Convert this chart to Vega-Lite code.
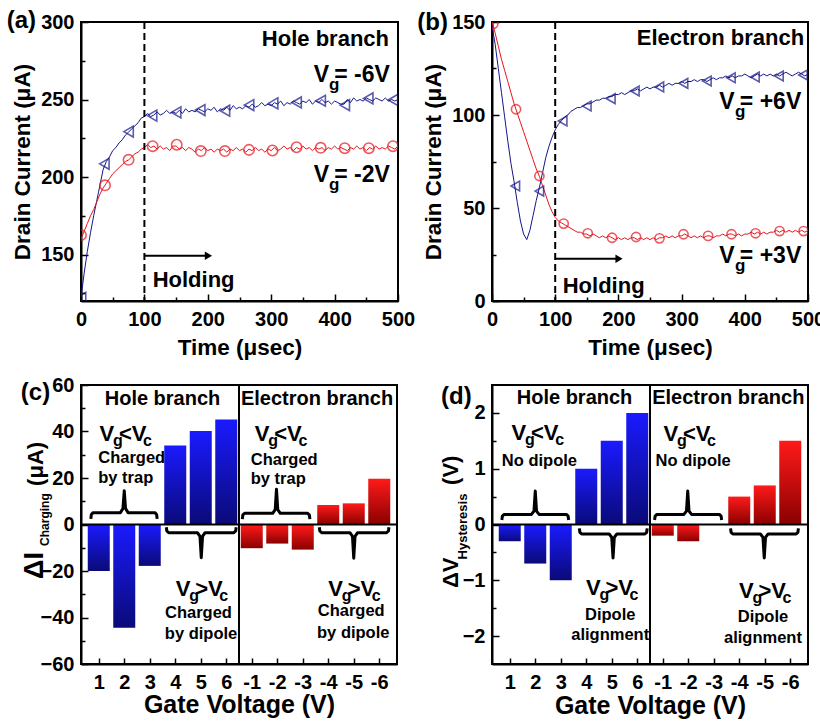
{
"$schema": "https://vega.github.io/schema/vega-lite/v6.json",
"background": "white",
"padding": {"left": 5, "top": 8, "right": 0, "bottom": 0},
"config": {
  "font": "Liberation Sans",
  "view": {"stroke": "black", "strokeWidth": 2},
  "axis": {"domainColor": "black", "domainWidth": 2, "tickColor": "black", "tickWidth": 1.5, "grid": false, "tickCount": 100,
    "labelFont": "Liberation Sans", "labelFontWeight": "bold", "labelFontSize": 20, "labelColor": "black", "labelOverlap": false, "labelFlush": false,
    "titleFont": "Liberation Sans", "titleFontWeight": "bold", "titleFontSize": 22.5, "titleColor": "black"},
  "axisX": {"labelAngle": 0},
  "text": {"font": "Liberation Sans", "fontWeight": "bold", "color": "black"}
},
"datasets": {
  "one": [{}],
  "a_line": [
    {"s":"-6V","x":0,"y":122},{"s":"-6V","x":5,"y":138},{"s":"-6V","x":10,"y":152},{"s":"-6V","x":15,"y":164},{"s":"-6V","x":20,"y":175},{"s":"-6V","x":25,"y":185},{"s":"-6V","x":30,"y":195},{"s":"-6V","x":35,"y":205},{"s":"-6V","x":40,"y":210},{"s":"-6V","x":45,"y":213},{"s":"-6V","x":50,"y":217},{"s":"-6V","x":55,"y":219},{"s":"-6V","x":60,"y":222},{"s":"-6V","x":65,"y":224},{"s":"-6V","x":70,"y":227},{"s":"-6V","x":75,"y":229},{"s":"-6V","x":80,"y":231},{"s":"-6V","x":85,"y":233},{"s":"-6V","x":90,"y":235},{"s":"-6V","x":95,"y":238},
    {"s":"-6V","x":100,"y":239},{"s":"-6V","x":105,"y":241},{"s":"-6V","x":110,"y":239},{"s":"-6V","x":115,"y":240},{"s":"-6V","x":120,"y":242},{"s":"-6V","x":125,"y":240},{"s":"-6V","x":130,"y":241},{"s":"-6V","x":135,"y":243},{"s":"-6V","x":140,"y":241},{"s":"-6V","x":145,"y":242},{"s":"-6V","x":150,"y":241},{"s":"-6V","x":155,"y":243},{"s":"-6V","x":160,"y":241},{"s":"-6V","x":165,"y":244},{"s":"-6V","x":170,"y":242},{"s":"-6V","x":175,"y":243},{"s":"-6V","x":180,"y":242},{"s":"-6V","x":185,"y":244},{"s":"-6V","x":190,"y":243},{"s":"-6V","x":195,"y":242},
    {"s":"-6V","x":200,"y":244},{"s":"-6V","x":205,"y":243},{"s":"-6V","x":210,"y":245},{"s":"-6V","x":215,"y":242},{"s":"-6V","x":220,"y":244},{"s":"-6V","x":225,"y":243},{"s":"-6V","x":230,"y":245},{"s":"-6V","x":235,"y":243},{"s":"-6V","x":240,"y":246},{"s":"-6V","x":245,"y":244},{"s":"-6V","x":250,"y":245},{"s":"-6V","x":255,"y":244},{"s":"-6V","x":260,"y":246},{"s":"-6V","x":265,"y":245},{"s":"-6V","x":270,"y":247},{"s":"-6V","x":275,"y":245},{"s":"-6V","x":280,"y":246},{"s":"-6V","x":285,"y":248},{"s":"-6V","x":290,"y":246},{"s":"-6V","x":295,"y":247},
    {"s":"-6V","x":300,"y":246},{"s":"-6V","x":305,"y":248},{"s":"-6V","x":310,"y":247},{"s":"-6V","x":315,"y":249},{"s":"-6V","x":320,"y":246},{"s":"-6V","x":325,"y":248},{"s":"-6V","x":330,"y":247},{"s":"-6V","x":335,"y":249},{"s":"-6V","x":340,"y":248},{"s":"-6V","x":345,"y":247},{"s":"-6V","x":350,"y":249},{"s":"-6V","x":355,"y":248},{"s":"-6V","x":360,"y":250},{"s":"-6V","x":365,"y":247},{"s":"-6V","x":370,"y":249},{"s":"-6V","x":375,"y":248},{"s":"-6V","x":380,"y":250},{"s":"-6V","x":385,"y":248},{"s":"-6V","x":390,"y":249},{"s":"-6V","x":395,"y":247},
    {"s":"-6V","x":400,"y":249},{"s":"-6V","x":405,"y":248},{"s":"-6V","x":410,"y":247},{"s":"-6V","x":415,"y":247},{"s":"-6V","x":420,"y":250},{"s":"-6V","x":425,"y":248},{"s":"-6V","x":430,"y":251},{"s":"-6V","x":435,"y":249},{"s":"-6V","x":440,"y":250},{"s":"-6V","x":445,"y":249},{"s":"-6V","x":450,"y":251},{"s":"-6V","x":455,"y":250},{"s":"-6V","x":460,"y":249},{"s":"-6V","x":465,"y":251},{"s":"-6V","x":470,"y":250},{"s":"-6V","x":475,"y":249},{"s":"-6V","x":480,"y":251},{"s":"-6V","x":485,"y":249},{"s":"-6V","x":490,"y":250},{"s":"-6V","x":495,"y":249},{"s":"-6V","x":500,"y":250},
    {"s":"-2V","x":0,"y":160},{"s":"-2V","x":5,"y":165},{"s":"-2V","x":10,"y":170},{"s":"-2V","x":15,"y":175},{"s":"-2V","x":20,"y":179},{"s":"-2V","x":25,"y":184},{"s":"-2V","x":30,"y":189},{"s":"-2V","x":35,"y":193},{"s":"-2V","x":40,"y":196},{"s":"-2V","x":45,"y":199},{"s":"-2V","x":50,"y":202},{"s":"-2V","x":55,"y":204},{"s":"-2V","x":60,"y":206},{"s":"-2V","x":65,"y":208},{"s":"-2V","x":70,"y":210},{"s":"-2V","x":75,"y":211},{"s":"-2V","x":80,"y":213},{"s":"-2V","x":85,"y":215},{"s":"-2V","x":90,"y":216},{"s":"-2V","x":95,"y":218},
    {"s":"-2V","x":100,"y":219},{"s":"-2V","x":105,"y":221},{"s":"-2V","x":110,"y":219},{"s":"-2V","x":115,"y":220},{"s":"-2V","x":120,"y":218},{"s":"-2V","x":125,"y":220},{"s":"-2V","x":130,"y":218},{"s":"-2V","x":135,"y":219},{"s":"-2V","x":140,"y":217},{"s":"-2V","x":145,"y":220},{"s":"-2V","x":150,"y":220},{"s":"-2V","x":155,"y":218},{"s":"-2V","x":160,"y":219},{"s":"-2V","x":165,"y":217},{"s":"-2V","x":170,"y":219},{"s":"-2V","x":175,"y":218},{"s":"-2V","x":180,"y":216},{"s":"-2V","x":185,"y":218},{"s":"-2V","x":190,"y":217},{"s":"-2V","x":195,"y":219},
    {"s":"-2V","x":200,"y":217},{"s":"-2V","x":205,"y":218},{"s":"-2V","x":210,"y":216},{"s":"-2V","x":215,"y":218},{"s":"-2V","x":220,"y":217},{"s":"-2V","x":225,"y":218},{"s":"-2V","x":230,"y":216},{"s":"-2V","x":235,"y":218},{"s":"-2V","x":240,"y":217},{"s":"-2V","x":245,"y":219},{"s":"-2V","x":250,"y":217},{"s":"-2V","x":255,"y":218},{"s":"-2V","x":260,"y":216},{"s":"-2V","x":265,"y":218},{"s":"-2V","x":270,"y":217},{"s":"-2V","x":275,"y":219},{"s":"-2V","x":280,"y":217},{"s":"-2V","x":285,"y":218},{"s":"-2V","x":290,"y":216},{"s":"-2V","x":295,"y":218},
    {"s":"-2V","x":300,"y":217},{"s":"-2V","x":305,"y":219},{"s":"-2V","x":310,"y":217},{"s":"-2V","x":315,"y":218},{"s":"-2V","x":320,"y":220},{"s":"-2V","x":325,"y":218},{"s":"-2V","x":330,"y":219},{"s":"-2V","x":335,"y":217},{"s":"-2V","x":340,"y":219},{"s":"-2V","x":345,"y":218},{"s":"-2V","x":350,"y":220},{"s":"-2V","x":355,"y":218},{"s":"-2V","x":360,"y":219},{"s":"-2V","x":365,"y":217},{"s":"-2V","x":370,"y":219},{"s":"-2V","x":375,"y":218},{"s":"-2V","x":380,"y":219},{"s":"-2V","x":385,"y":217},{"s":"-2V","x":390,"y":219},{"s":"-2V","x":395,"y":218},
    {"s":"-2V","x":400,"y":220},{"s":"-2V","x":405,"y":218},{"s":"-2V","x":410,"y":219},{"s":"-2V","x":415,"y":218},{"s":"-2V","x":420,"y":217},{"s":"-2V","x":425,"y":219},{"s":"-2V","x":430,"y":218},{"s":"-2V","x":435,"y":220},{"s":"-2V","x":440,"y":218},{"s":"-2V","x":445,"y":219},{"s":"-2V","x":450,"y":217},{"s":"-2V","x":455,"y":219},{"s":"-2V","x":460,"y":218},{"s":"-2V","x":465,"y":220},{"s":"-2V","x":470,"y":218},{"s":"-2V","x":475,"y":219},{"s":"-2V","x":480,"y":218},{"s":"-2V","x":485,"y":220},{"s":"-2V","x":490,"y":219},{"s":"-2V","x":495,"y":218},{"s":"-2V","x":500,"y":220}
  ],
  "a_pts": [
    {"s":"-6V","x":0,"y":122},{"s":"-6V","x":36.8,"y":208.5},{"s":"-6V","x":75,"y":229.3},{"s":"-6V","x":112,"y":239.6},{"s":"-6V","x":150,"y":241.7},{"s":"-6V","x":188,"y":243.2},{"s":"-6V","x":227,"y":242.8},{"s":"-6V","x":265,"y":246.4},{"s":"-6V","x":303,"y":247.5},{"s":"-6V","x":340,"y":248.1},{"s":"-6V","x":378,"y":249.2},{"s":"-6V","x":416,"y":246.4},{"s":"-6V","x":453,"y":250.7},{"s":"-6V","x":492,"y":249.7},
    {"s":"-2V","x":0,"y":162.5},{"s":"-2V","x":37.9,"y":194.6},{"s":"-2V","x":75,"y":211.1},{"s":"-2V","x":113,"y":219.9},{"s":"-2V","x":151,"y":220.8},{"s":"-2V","x":189,"y":216.7},{"s":"-2V","x":227,"y":216.7},{"s":"-2V","x":265,"y":217.5},{"s":"-2V","x":302,"y":217.1},{"s":"-2V","x":340,"y":219.2},{"s":"-2V","x":378,"y":218.8},{"s":"-2V","x":416,"y":218.6},{"s":"-2V","x":454,"y":218.6},{"s":"-2V","x":492,"y":219.9}
  ],
  "a_txt": [
    {"k":"big","x":367,"y":261,"s":"V"},{"k":"sub","x":391.2,"y":261,"s":"g"},{"k":"big","x":399.5,"y":261,"s":"= -6V"},
    {"k":"big","x":367,"y":196.7,"s":"V"},{"k":"sub","x":391.2,"y":196.7,"s":"g"},{"k":"big","x":399.5,"y":196.7,"s":"= -2V"},
    {"k":"head","x":485.8,"y":288.9,"s":"Hole branch"},
    {"k":"hold","x":113,"y":133.6,"s":"Holding"},
    {"k":"lab","x":-71,"y":300.6,"s":"(a)"}
  ],
  "b_line": [
    {"s":"+6V","x":0,"y":148},{"s":"+6V","x":5,"y":138},{"s":"+6V","x":10,"y":125},{"s":"+6V","x":15,"y":112},{"s":"+6V","x":20,"y":99},{"s":"+6V","x":25,"y":86},{"s":"+6V","x":30,"y":74},{"s":"+6V","x":35,"y":64},{"s":"+6V","x":40,"y":53},{"s":"+6V","x":45,"y":43},{"s":"+6V","x":50,"y":36},{"s":"+6V","x":55,"y":33},{"s":"+6V","x":60,"y":38},{"s":"+6V","x":65,"y":46},{"s":"+6V","x":70,"y":54},{"s":"+6V","x":75,"y":61},{"s":"+6V","x":80,"y":69},{"s":"+6V","x":85,"y":77},{"s":"+6V","x":90,"y":83},{"s":"+6V","x":95,"y":88},
    {"s":"+6V","x":100,"y":92},{"s":"+6V","x":105,"y":95},{"s":"+6V","x":110,"y":97},{"s":"+6V","x":115,"y":99},{"s":"+6V","x":120,"y":100},{"s":"+6V","x":125,"y":102},{"s":"+6V","x":130,"y":103},{"s":"+6V","x":135,"y":104},{"s":"+6V","x":140,"y":104},{"s":"+6V","x":145,"y":105},{"s":"+6V","x":150,"y":106},{"s":"+6V","x":155,"y":106},{"s":"+6V","x":160,"y":107},{"s":"+6V","x":165,"y":108},{"s":"+6V","x":170,"y":108},{"s":"+6V","x":175,"y":109},{"s":"+6V","x":180,"y":109},{"s":"+6V","x":185,"y":110},{"s":"+6V","x":190,"y":110},{"s":"+6V","x":195,"y":111},
    {"s":"+6V","x":200,"y":111},{"s":"+6V","x":205,"y":112},{"s":"+6V","x":210,"y":111},{"s":"+6V","x":215,"y":112},{"s":"+6V","x":220,"y":113},{"s":"+6V","x":225,"y":113},{"s":"+6V","x":230,"y":114},{"s":"+6V","x":235,"y":113},{"s":"+6V","x":240,"y":114},{"s":"+6V","x":245,"y":115},{"s":"+6V","x":250,"y":114},{"s":"+6V","x":255,"y":115},{"s":"+6V","x":260,"y":115},{"s":"+6V","x":265,"y":116},{"s":"+6V","x":270,"y":115},{"s":"+6V","x":275,"y":116},{"s":"+6V","x":280,"y":117},{"s":"+6V","x":285,"y":116},{"s":"+6V","x":290,"y":117},{"s":"+6V","x":295,"y":117},
    {"s":"+6V","x":300,"y":118},{"s":"+6V","x":305,"y":117},{"s":"+6V","x":310,"y":118},{"s":"+6V","x":315,"y":118},{"s":"+6V","x":320,"y":119},{"s":"+6V","x":325,"y":118},{"s":"+6V","x":330,"y":119},{"s":"+6V","x":335,"y":119},{"s":"+6V","x":340,"y":118},{"s":"+6V","x":345,"y":119},{"s":"+6V","x":350,"y":120},{"s":"+6V","x":355,"y":119},{"s":"+6V","x":360,"y":120},{"s":"+6V","x":365,"y":120},{"s":"+6V","x":370,"y":121},{"s":"+6V","x":375,"y":120},{"s":"+6V","x":380,"y":121},{"s":"+6V","x":385,"y":120},{"s":"+6V","x":390,"y":121},{"s":"+6V","x":395,"y":121},
    {"s":"+6V","x":400,"y":122},{"s":"+6V","x":405,"y":121},{"s":"+6V","x":410,"y":120},{"s":"+6V","x":415,"y":121},{"s":"+6V","x":420,"y":122},{"s":"+6V","x":425,"y":121},{"s":"+6V","x":430,"y":122},{"s":"+6V","x":435,"y":121},{"s":"+6V","x":440,"y":122},{"s":"+6V","x":445,"y":121},{"s":"+6V","x":450,"y":122},{"s":"+6V","x":455,"y":121},{"s":"+6V","x":460,"y":122},{"s":"+6V","x":465,"y":123},{"s":"+6V","x":470,"y":122},{"s":"+6V","x":475,"y":121},{"s":"+6V","x":480,"y":122},{"s":"+6V","x":485,"y":123},{"s":"+6V","x":490,"y":122},{"s":"+6V","x":495,"y":121},{"s":"+6V","x":500,"y":122},
    {"s":"+3V","x":0,"y":150},{"s":"+3V","x":5,"y":144},{"s":"+3V","x":10,"y":137},{"s":"+3V","x":15,"y":130},{"s":"+3V","x":20,"y":124},{"s":"+3V","x":25,"y":118},{"s":"+3V","x":30,"y":112},{"s":"+3V","x":35,"y":106},{"s":"+3V","x":40,"y":101},{"s":"+3V","x":45,"y":96},{"s":"+3V","x":50,"y":91},{"s":"+3V","x":55,"y":86},{"s":"+3V","x":60,"y":81},{"s":"+3V","x":65,"y":76},{"s":"+3V","x":70,"y":71},{"s":"+3V","x":75,"y":67},{"s":"+3V","x":80,"y":62},{"s":"+3V","x":85,"y":57},{"s":"+3V","x":90,"y":52},{"s":"+3V","x":95,"y":48},
    {"s":"+3V","x":100,"y":45},{"s":"+3V","x":105,"y":43},{"s":"+3V","x":110,"y":42},{"s":"+3V","x":115,"y":41},{"s":"+3V","x":120,"y":40},{"s":"+3V","x":125,"y":39},{"s":"+3V","x":130,"y":38},{"s":"+3V","x":135,"y":37},{"s":"+3V","x":140,"y":37},{"s":"+3V","x":145,"y":36},{"s":"+3V","x":150,"y":36},{"s":"+3V","x":155,"y":35},{"s":"+3V","x":160,"y":36},{"s":"+3V","x":165,"y":35},{"s":"+3V","x":170,"y":34},{"s":"+3V","x":175,"y":35},{"s":"+3V","x":180,"y":34},{"s":"+3V","x":185,"y":35},{"s":"+3V","x":190,"y":34},{"s":"+3V","x":195,"y":33},
    {"s":"+3V","x":200,"y":34},{"s":"+3V","x":205,"y":33},{"s":"+3V","x":210,"y":34},{"s":"+3V","x":215,"y":33},{"s":"+3V","x":220,"y":34},{"s":"+3V","x":225,"y":34},{"s":"+3V","x":230,"y":33},{"s":"+3V","x":235,"y":34},{"s":"+3V","x":240,"y":33},{"s":"+3V","x":245,"y":34},{"s":"+3V","x":250,"y":33},{"s":"+3V","x":255,"y":34},{"s":"+3V","x":260,"y":33},{"s":"+3V","x":265,"y":34},{"s":"+3V","x":270,"y":34},{"s":"+3V","x":275,"y":35},{"s":"+3V","x":280,"y":34},{"s":"+3V","x":285,"y":35},{"s":"+3V","x":290,"y":34},{"s":"+3V","x":295,"y":35},
    {"s":"+3V","x":300,"y":35},{"s":"+3V","x":305,"y":36},{"s":"+3V","x":310,"y":35},{"s":"+3V","x":315,"y":34},{"s":"+3V","x":320,"y":35},{"s":"+3V","x":325,"y":34},{"s":"+3V","x":330,"y":35},{"s":"+3V","x":335,"y":34},{"s":"+3V","x":340,"y":35},{"s":"+3V","x":345,"y":35},{"s":"+3V","x":350,"y":34},{"s":"+3V","x":355,"y":35},{"s":"+3V","x":360,"y":35},{"s":"+3V","x":365,"y":36},{"s":"+3V","x":370,"y":35},{"s":"+3V","x":375,"y":36},{"s":"+3V","x":380,"y":36},{"s":"+3V","x":385,"y":35},{"s":"+3V","x":390,"y":36},{"s":"+3V","x":395,"y":35},
    {"s":"+3V","x":400,"y":36},{"s":"+3V","x":405,"y":36},{"s":"+3V","x":410,"y":37},{"s":"+3V","x":415,"y":36},{"s":"+3V","x":420,"y":37},{"s":"+3V","x":425,"y":36},{"s":"+3V","x":430,"y":37},{"s":"+3V","x":435,"y":36},{"s":"+3V","x":440,"y":37},{"s":"+3V","x":445,"y":37},{"s":"+3V","x":450,"y":38},{"s":"+3V","x":455,"y":37},{"s":"+3V","x":460,"y":38},{"s":"+3V","x":465,"y":37},{"s":"+3V","x":470,"y":38},{"s":"+3V","x":475,"y":37},{"s":"+3V","x":480,"y":38},{"s":"+3V","x":485,"y":37},{"s":"+3V","x":490,"y":38},{"s":"+3V","x":495,"y":37},{"s":"+3V","x":500,"y":38}
  ],
  "b_pts": [
    {"s":"+6V","x":36.9,"y":61.8},{"s":"+6V","x":74.9,"y":59.1},{"s":"+6V","x":111.8,"y":96.8},{"s":"+6V","x":150,"y":104.8},{"s":"+6V","x":188,"y":108.8},{"s":"+6V","x":226,"y":112.9},{"s":"+6V","x":264.8,"y":115.1},{"s":"+6V","x":303,"y":117},{"s":"+6V","x":340,"y":118.3},{"s":"+6V","x":378,"y":120},{"s":"+6V","x":416,"y":120.4},{"s":"+6V","x":454,"y":121},{"s":"+6V","x":492,"y":121.5},
    {"s":"+3V","x":2,"y":149},{"s":"+3V","x":38,"y":103.1},{"s":"+3V","x":75,"y":67.2},{"s":"+3V","x":113.4,"y":41.6},{"s":"+3V","x":151.5,"y":36.4},{"s":"+3V","x":190,"y":34},{"s":"+3V","x":228,"y":34.4},{"s":"+3V","x":265,"y":33.7},{"s":"+3V","x":303,"y":35.9},{"s":"+3V","x":342,"y":35},{"s":"+3V","x":379,"y":35.9},{"s":"+3V","x":417,"y":36.4},{"s":"+3V","x":455,"y":37.6},{"s":"+3V","x":493,"y":37.6}
  ],
  "b_txt": [
    {"k":"big","x":359.7,"y":103.1,"s":"V"},{"k":"sub","x":384.5,"y":103.1,"s":"g"},{"k":"big","x":392.2,"y":103.1,"s":"= +6V"},
    {"k":"big","x":359.7,"y":20.6,"s":"V"},{"k":"sub","x":384.5,"y":20.6,"s":"g"},{"k":"big","x":392.2,"y":20.6,"s":"= +3V"},
    {"k":"head","x":494,"y":141.6,"s":"Electron branch"},
    {"k":"hold","x":111.9,"y":8.1,"s":"Holding"},
    {"k":"lab","x":-69.6,"y":149.5,"s":"(b)"}
  ],
  "c_bars": [
    {"br":"h","x":1,"g":"1","y":-20},{"br":"h","x":2,"g":"2","y":-44.4},{"br":"h","x":3,"g":"3","y":-17.8},{"br":"h","x":4,"g":"4","y":34},{"br":"h","x":5,"g":"5","y":40.2},{"br":"h","x":6,"g":"6","y":45.2},
    {"br":"e","x":7,"g":"-1","y":-10.2},{"br":"e","x":8,"g":"-2","y":-8.2},{"br":"e","x":9,"g":"-3","y":-10.8},{"br":"e","x":10,"g":"-4","y":8.4},{"br":"e","x":11,"g":"-5","y":9.1},{"br":"e","x":12,"g":"-6","y":19.7}
  ],
  "c_br": [
    {"b":1,"o":1,"x":0.69,"y":2.4},{"b":1,"o":2,"x":0.71,"y":4.3},{"b":1,"o":3,"x":0.78,"y":5.1},{"b":1,"o":4,"x":1.85,"y":5.1},{"b":1,"o":5,"x":1.95,"y":6.9},{"b":1,"o":6,"x":2.0,"y":14.5},{"b":1,"o":7,"x":2.05,"y":6.9},{"b":1,"o":8,"x":2.15,"y":5.1},{"b":1,"o":9,"x":3.2,"y":5.1},{"b":1,"o":10,"x":3.27,"y":4.3},{"b":1,"o":11,"x":3.29,"y":2.4},
    {"b":2,"o":1,"x":3.65,"y":-1.2},{"b":2,"o":2,"x":3.67,"y":-2.8},{"b":2,"o":3,"x":3.74,"y":-3.5},{"b":2,"o":4,"x":4.87,"y":-3.5},{"b":2,"o":5,"x":4.97,"y":-5.1},{"b":2,"o":6,"x":5.02,"y":-14.3},{"b":2,"o":7,"x":5.07,"y":-5.1},{"b":2,"o":8,"x":5.17,"y":-3.5},{"b":2,"o":9,"x":6.3,"y":-3.5},{"b":2,"o":10,"x":6.37,"y":-2.8},{"b":2,"o":11,"x":6.39,"y":-1.2},
    {"b":3,"o":1,"x":6.63,"y":2.3},{"b":3,"o":2,"x":6.65,"y":4.1},{"b":3,"o":3,"x":6.72,"y":4.8},{"b":3,"o":4,"x":7.82,"y":4.8},{"b":3,"o":5,"x":7.92,"y":6.4},{"b":3,"o":6,"x":7.97,"y":15.2},{"b":3,"o":7,"x":8.02,"y":6.4},{"b":3,"o":8,"x":8.12,"y":4.8},{"b":3,"o":9,"x":9.19,"y":4.8},{"b":3,"o":10,"x":9.26,"y":4.1},{"b":3,"o":11,"x":9.28,"y":2.3},
    {"b":4,"o":1,"x":9.65,"y":-1.2},{"b":4,"o":2,"x":9.67,"y":-2.8},{"b":4,"o":3,"x":9.74,"y":-3.5},{"b":4,"o":4,"x":10.85,"y":-3.5},{"b":4,"o":5,"x":10.95,"y":-5.1},{"b":4,"o":6,"x":11.0,"y":-14.5},{"b":4,"o":7,"x":11.05,"y":-5.1},{"b":4,"o":8,"x":11.15,"y":-3.5},{"b":4,"o":9,"x":12.29,"y":-3.5},{"b":4,"o":10,"x":12.36,"y":-2.8},{"b":4,"o":11,"x":12.38,"y":-1.2}
  ],
  "c_txt": [
    {"k":"head","x":3.5,"y":54.1,"s":"Hole branch"},{"k":"head","x":9.56,"y":54.1,"s":"Electron branch"},
    {"k":"big","x":1.03,"y":35.9,"s":"V"},{"k":"sub","x":1.56,"y":35.9,"s":"g"},{"k":"big","x":1.79,"y":35.9,"s":"<V"},{"k":"sub","x":2.74,"y":35.9,"s":"c"},
    {"k":"big","x":7.12,"y":35.9,"s":"V"},{"k":"sub","x":7.65,"y":35.9,"s":"g"},{"k":"big","x":7.88,"y":35.9,"s":"<V"},{"k":"sub","x":8.83,"y":35.9,"s":"c"},
    {"k":"big","x":4.02,"y":-30.8,"s":"V"},{"k":"sub","x":4.55,"y":-30.8,"s":"g"},{"k":"big","x":4.78,"y":-30.8,"s":">V"},{"k":"sub","x":5.73,"y":-30.8,"s":"c"},
    {"k":"big","x":10.0,"y":-30.8,"s":"V"},{"k":"sub","x":10.53,"y":-30.8,"s":"g"},{"k":"big","x":10.76,"y":-30.8,"s":">V"},{"k":"sub","x":11.71,"y":-30.8,"s":"c"},
    {"k":"descL","x":0.98,"y":28.5,"s":"Charged"},{"k":"descL","x":0.98,"y":20.1,"s":"by trap"},{"k":"descL","x":6.96,"y":27.7,"s":"Charged"},{"k":"descL","x":6.96,"y":19.4,"s":"by trap"},
    {"k":"descC","x":4.91,"y":-38.2,"s":"Charged"},{"k":"descC","x":5.01,"y":-47,"s":"by dipole"},{"k":"descC","x":10.9,"y":-37.2,"s":"Charged"},{"k":"descC","x":10.98,"y":-46.6,"s":"by dipole"},
    {"k":"lab","x":-0.905,"y":56.6,"s":"(c)"},
    {"k":"yt1","x":-1.17,"y":-23.4,"s":"ΔI"},{"k":"yt2","x":-0.96,"y":-9.2,"s":"Charging"},{"k":"yt3","x":-1.17,"y":16.6,"s":"(μA)"}
  ],
  "d_bars": [
    {"br":"h","x":1,"g":"1","y":-0.3},{"br":"h","x":2,"g":"2","y":-0.7},{"br":"h","x":3,"g":"3","y":-1.0},{"br":"h","x":4,"g":"4","y":1.0},{"br":"h","x":5,"g":"5","y":1.5},{"br":"h","x":6,"g":"6","y":2.0},
    {"br":"e","x":7,"g":"-1","y":-0.2},{"br":"e","x":8,"g":"-2","y":-0.3},{"br":"e","x":9,"g":"-3","y":0},{"br":"e","x":10,"g":"-4","y":0.5},{"br":"e","x":11,"g":"-5","y":0.7},{"br":"e","x":12,"g":"-6","y":1.5}
  ],
  "d_br": [
    {"b":1,"o":1,"x":0.69,"y":0.08},{"b":1,"o":2,"x":0.71,"y":0.15},{"b":1,"o":3,"x":0.78,"y":0.18},{"b":1,"o":4,"x":1.85,"y":0.18},{"b":1,"o":5,"x":1.95,"y":0.24},{"b":1,"o":6,"x":2.0,"y":0.6},{"b":1,"o":7,"x":2.05,"y":0.24},{"b":1,"o":8,"x":2.15,"y":0.18},{"b":1,"o":9,"x":3.22,"y":0.18},{"b":1,"o":10,"x":3.29,"y":0.15},{"b":1,"o":11,"x":3.31,"y":0.08},
    {"b":2,"o":1,"x":3.73,"y":-0.07},{"b":2,"o":2,"x":3.75,"y":-0.14},{"b":2,"o":3,"x":3.82,"y":-0.17},{"b":2,"o":4,"x":4.9,"y":-0.17},{"b":2,"o":5,"x":5.0,"y":-0.23},{"b":2,"o":6,"x":5.05,"y":-0.6},{"b":2,"o":7,"x":5.1,"y":-0.23},{"b":2,"o":8,"x":5.2,"y":-0.17},{"b":2,"o":9,"x":6.3,"y":-0.17},{"b":2,"o":10,"x":6.37,"y":-0.14},{"b":2,"o":11,"x":6.39,"y":-0.07},
    {"b":3,"o":1,"x":6.68,"y":0.08},{"b":3,"o":2,"x":6.7,"y":0.15},{"b":3,"o":3,"x":6.77,"y":0.18},{"b":3,"o":4,"x":7.83,"y":0.18},{"b":3,"o":5,"x":7.93,"y":0.24},{"b":3,"o":6,"x":7.98,"y":0.6},{"b":3,"o":7,"x":8.03,"y":0.24},{"b":3,"o":8,"x":8.13,"y":0.18},{"b":3,"o":9,"x":9.22,"y":0.18},{"b":3,"o":10,"x":9.29,"y":0.15},{"b":3,"o":11,"x":9.31,"y":0.08},
    {"b":4,"o":1,"x":9.66,"y":-0.07},{"b":4,"o":2,"x":9.68,"y":-0.14},{"b":4,"o":3,"x":9.75,"y":-0.17},{"b":4,"o":4,"x":10.83,"y":-0.17},{"b":4,"o":5,"x":10.93,"y":-0.23},{"b":4,"o":6,"x":10.98,"y":-0.6},{"b":4,"o":7,"x":11.03,"y":-0.23},{"b":4,"o":8,"x":11.13,"y":-0.17},{"b":4,"o":9,"x":12.23,"y":-0.17},{"b":4,"o":10,"x":12.3,"y":-0.14},{"b":4,"o":11,"x":12.32,"y":-0.07}
  ],
  "d_txt": [
    {"k":"head","x":3.54,"y":2.27,"s":"Hole branch"},{"k":"head","x":9.57,"y":2.27,"s":"Electron branch"},
    {"k":"big","x":1.07,"y":1.51,"s":"V"},{"k":"sub","x":1.6,"y":1.51,"s":"g"},{"k":"big","x":1.83,"y":1.51,"s":"<V"},{"k":"sub","x":2.78,"y":1.51,"s":"c"},
    {"k":"big","x":7.03,"y":1.5,"s":"V"},{"k":"sub","x":7.56,"y":1.5,"s":"g"},{"k":"big","x":7.79,"y":1.5,"s":"<V"},{"k":"sub","x":8.74,"y":1.5,"s":"c"},
    {"k":"big","x":3.99,"y":-1.26,"s":"V"},{"k":"sub","x":4.52,"y":-1.26,"s":"g"},{"k":"big","x":4.75,"y":-1.26,"s":">V"},{"k":"sub","x":5.7,"y":-1.26,"s":"c"},
    {"k":"big","x":9.99,"y":-1.31,"s":"V"},{"k":"sub","x":10.52,"y":-1.31,"s":"g"},{"k":"big","x":10.75,"y":-1.31,"s":">V"},{"k":"sub","x":11.7,"y":-1.31,"s":"c"},
    {"k":"descL","x":0.69,"y":1.14,"s":"No dipole"},{"k":"descL","x":6.72,"y":1.14,"s":"No dipole"},
    {"k":"descC","x":4.94,"y":-1.63,"s":"Dipole"},{"k":"descC","x":4.94,"y":-1.98,"s":"alignment"},{"k":"descC","x":10.93,"y":-1.66,"s":"Dipole"},{"k":"descC","x":10.93,"y":-2.03,"s":"alignment"},
    {"k":"lab","x":-0.49,"y":2.29,"s":"(d)"},
    {"k":"yt1","x":-1.02,"y":-1.14,"s":"ΔV"},{"k":"yt2","x":-0.68,"y":-0.625,"s":"Hysteresis"},{"k":"yt3","x":-1.02,"y":0.71,"s":"(V)"}
  ]
},
"columns": 2,
"spacing": {"row": 84, "column": 94},
"bounds": "flush",
"concat": [
  {
    "width": 317, "height": 279,
    "layer": [
      {"data": {"name": "a_line"}, "mark": {"type": "line", "strokeWidth": 1, "clip": true},
       "encoding": {
         "x": {"field": "x", "type": "quantitative", "scale": {"domain": [0, 500], "nice": false, "zero": false},
               "axis": {"values": [0,50,100,150,200,250,300,350,400,450,500], "tickCount": 100, "labelExpr": "datum.value % 100 === 0 ? format(datum.value, 'd') : ''",
                        "tickSize": {"condition": {"test": "datum.value % 100 !== 0", "value": -4}, "value": -7},
                        "labelPadding": 15, "title": "Time (μsec)", "titlePadding": 4}},
         "y": {"field": "y", "type": "quantitative", "scale": {"domain": [120, 300], "nice": false, "zero": false},
               "axis": {"values": [125,150,175,200,225,250,275,300], "tickCount": 100, "labelExpr": "datum.value % 50 === 0 ? format(datum.value, 'd') : ''",
                        "tickSize": {"condition": {"test": "datum.value % 50 !== 0", "value": -4}, "value": -7},
                        "labelPadding": 14, "title": "Drain Current (μA)", "titlePadding": 6}},
         "color": {"field": "s", "type": "nominal", "scale": {"domain": ["-6V", "-2V"], "range": ["#16168c", "#e8141c"]}, "legend": null}
       }},
      {"data": {"name": "a_pts"}, "mark": {"type": "point", "filled": false, "strokeWidth": 1.6, "clip": true},
       "encoding": {
         "x": {"field": "x", "type": "quantitative"},
         "y": {"field": "y", "type": "quantitative"},
         "color": {"field": "s", "type": "nominal", "legend": null},
         "shape": {"field": "s", "type": "nominal", "scale": {"domain": ["-6V", "-2V"], "range": ["triangle-left", "circle"]}, "legend": null},
         "size": {"field": "s", "type": "nominal", "scale": {"domain": ["-6V", "-2V"], "range": [120, 85]}, "legend": null}
       }},
      {"data": {"name": "one"}, "mark": {"type": "rule", "strokeDash": [7, 4], "strokeWidth": 2, "color": "black"},
       "encoding": {"x": {"datum": 100}}},
      {"data": {"name": "one"}, "mark": {"type": "rule", "strokeWidth": 2, "color": "black"},
       "encoding": {"x": {"datum": 100}, "x2": {"datum": 198}, "y": {"datum": 149.2}}},
      {"data": {"name": "one"}, "mark": {"type": "point", "shape": "triangle-right", "filled": true, "size": 70, "color": "black", "opacity": 1},
       "encoding": {"x": {"datum": 201}, "y": {"datum": 149.2}}},
      {"data": {"name": "a_txt"}, "transform": [{"filter": "datum.k === 'big'"}], "mark": {"type": "text", "fontSize": 23, "align": "left", "baseline": "alphabetic"},
       "encoding": {"x": {"field": "x", "type": "quantitative"}, "y": {"field": "y", "type": "quantitative"}, "text": {"field": "s"}}},
      {"data": {"name": "a_txt"}, "transform": [{"filter": "datum.k === 'sub'"}], "mark": {"type": "text", "fontSize": 17, "align": "left", "baseline": "alphabetic", "dy": 8},
       "encoding": {"x": {"field": "x", "type": "quantitative"}, "y": {"field": "y", "type": "quantitative"}, "text": {"field": "s"}}},
      {"data": {"name": "a_txt"}, "transform": [{"filter": "datum.k === 'head'"}], "mark": {"type": "text", "fontSize": 22, "align": "right", "baseline": "middle"},
       "encoding": {"x": {"field": "x", "type": "quantitative"}, "y": {"field": "y", "type": "quantitative"}, "text": {"field": "s"}}},
      {"data": {"name": "a_txt"}, "transform": [{"filter": "datum.k === 'hold'"}], "mark": {"type": "text", "fontSize": 22, "align": "left", "baseline": "middle"},
       "encoding": {"x": {"field": "x", "type": "quantitative"}, "y": {"field": "y", "type": "quantitative"}, "text": {"field": "s"}}},
      {"data": {"name": "a_txt"}, "transform": [{"filter": "datum.k === 'lab'"}], "mark": {"type": "text", "fontSize": 24, "align": "right", "baseline": "middle"},
       "encoding": {"x": {"field": "x", "type": "quantitative"}, "y": {"field": "y", "type": "quantitative"}, "text": {"field": "s"}}}
    ]
  },
  {
    "width": 316, "height": 279,
    "layer": [
      {"data": {"name": "b_line"}, "mark": {"type": "line", "strokeWidth": 1, "clip": true},
       "encoding": {
         "x": {"field": "x", "type": "quantitative", "scale": {"domain": [0, 500], "nice": false, "zero": false},
               "axis": {"values": [0,50,100,150,200,250,300,350,400,450,500], "tickCount": 100, "labelExpr": "datum.value % 100 === 0 ? format(datum.value, 'd') : ''",
                        "tickSize": {"condition": {"test": "datum.value % 100 !== 0", "value": -4}, "value": -7},
                        "labelPadding": 15, "title": "Time (μsec)", "titlePadding": 4}},
         "y": {"field": "y", "type": "quantitative", "scale": {"domain": [0, 150], "nice": false},
               "axis": {"values": [0,25,50,75,100,125,150], "tickCount": 100, "labelExpr": "datum.value % 50 === 0 ? format(datum.value, 'd') : ''",
                        "tickSize": {"condition": {"test": "datum.value % 50 !== 0", "value": -4}, "value": -7},
                        "labelPadding": 14, "title": "Drain Current (μA)", "titlePadding": 6}},
         "color": {"field": "s", "type": "nominal", "scale": {"domain": ["+6V", "+3V"], "range": ["#16168c", "#e8141c"]}, "legend": null}
       }},
      {"data": {"name": "b_pts"}, "mark": {"type": "point", "filled": false, "strokeWidth": 1.6, "clip": true},
       "encoding": {
         "x": {"field": "x", "type": "quantitative"},
         "y": {"field": "y", "type": "quantitative"},
         "color": {"field": "s", "type": "nominal", "legend": null},
         "shape": {"field": "s", "type": "nominal", "scale": {"domain": ["+6V", "+3V"], "range": ["triangle-left", "triangle-up"]}, "legend": null},
         "size": {"field": "s", "type": "nominal", "scale": {"domain": ["+6V", "+3V"], "range": [120, 120]}, "legend": null}
       }},
      {"data": {"name": "one"}, "mark": {"type": "rule", "strokeDash": [7, 4], "strokeWidth": 2, "color": "black"},
       "encoding": {"x": {"datum": 100}}},
      {"data": {"name": "one"}, "mark": {"type": "rule", "strokeWidth": 2, "color": "black"},
       "encoding": {"x": {"datum": 100}, "x2": {"datum": 198}, "y": {"datum": 22.7}}},
      {"data": {"name": "one"}, "mark": {"type": "point", "shape": "triangle-right", "filled": true, "size": 70, "color": "black", "opacity": 1},
       "encoding": {"x": {"datum": 201}, "y": {"datum": 22.7}}},
      {"data": {"name": "b_txt"}, "transform": [{"filter": "datum.k === 'big'"}], "mark": {"type": "text", "fontSize": 23, "align": "left", "baseline": "alphabetic"},
       "encoding": {"x": {"field": "x", "type": "quantitative"}, "y": {"field": "y", "type": "quantitative"}, "text": {"field": "s"}}},
      {"data": {"name": "b_txt"}, "transform": [{"filter": "datum.k === 'sub'"}], "mark": {"type": "text", "fontSize": 17, "align": "left", "baseline": "alphabetic", "dy": 8},
       "encoding": {"x": {"field": "x", "type": "quantitative"}, "y": {"field": "y", "type": "quantitative"}, "text": {"field": "s"}}},
      {"data": {"name": "b_txt"}, "transform": [{"filter": "datum.k === 'head'"}], "mark": {"type": "text", "fontSize": 22, "align": "right", "baseline": "middle"},
       "encoding": {"x": {"field": "x", "type": "quantitative"}, "y": {"field": "y", "type": "quantitative"}, "text": {"field": "s"}}},
      {"data": {"name": "b_txt"}, "transform": [{"filter": "datum.k === 'hold'"}], "mark": {"type": "text", "fontSize": 22, "align": "left", "baseline": "middle"},
       "encoding": {"x": {"field": "x", "type": "quantitative"}, "y": {"field": "y", "type": "quantitative"}, "text": {"field": "s"}}},
      {"data": {"name": "b_txt"}, "transform": [{"filter": "datum.k === 'lab'"}], "mark": {"type": "text", "fontSize": 24, "align": "right", "baseline": "middle"},
       "encoding": {"x": {"field": "x", "type": "quantitative"}, "y": {"field": "y", "type": "quantitative"}, "text": {"field": "s"}}}
    ]
  },
  {
    "width": 316, "height": 279,
    "layer": [
      {"data": {"name": "c_bars"}, "transform": [{"filter": "datum.br === 'h'"}],
       "mark": {"type": "bar", "size": 22, "color": {"gradient": "linear", "x1": 0, "y1": 0, "x2": 0, "y2": 1, "stops": [{"offset": 0, "color": "#1a1aff"}, {"offset": 1, "color": "#0a0a78"}]}},
       "encoding": {
         "x": {"field": "x", "type": "quantitative", "scale": {"domain": [0.5, 12.5], "nice": false, "zero": false},
               "axis": {"values": [1,2,3,4,5,6,7,8,9,10,11,12], "tickCount": 100, "labelExpr": "['1','2','3','4','5','6','-1','-2','-3','-4','-5','-6'][datum.value - 1]",
                        "tickSize": -6, "labelPadding": 14, "title": "Gate Voltage (V)", "titleFontSize": 25, "titlePadding": 0}},
         "y": {"field": "y", "type": "quantitative", "scale": {"domain": [-60, 60], "nice": false},
               "axis": {"values": [-60,-50,-40,-30,-20,-10,0,10,20,30,40,50,60], "tickCount": 100, "labelExpr": "datum.value % 20 === 0 ? format(datum.value, 'd') : ''",
                        "tickSize": {"condition": {"test": "datum.value % 20 !== 0", "value": -4}, "value": -7},
                        "labelPadding": 14, "title": null}}
       }},
      {"data": {"name": "c_bars"}, "transform": [{"filter": "datum.br === 'e'"}],
       "mark": {"type": "bar", "size": 22, "color": {"gradient": "linear", "x1": 0, "y1": 0, "x2": 0, "y2": 1, "stops": [{"offset": 0, "color": "#ff1a1a"}, {"offset": 1, "color": "#8a0000"}]}},
       "encoding": {"x": {"field": "x", "type": "quantitative"}, "y": {"field": "y", "type": "quantitative"}}},
      {"data": {"name": "one"}, "mark": {"type": "rule", "strokeWidth": 2, "color": "black"}, "encoding": {"y": {"datum": 0}}},
      {"data": {"name": "one"}, "mark": {"type": "rule", "strokeWidth": 2, "color": "black"}, "encoding": {"x": {"datum": 6.5}}},
      {"data": {"name": "c_br"}, "mark": {"type": "line", "strokeWidth": 3, "color": "black", "strokeJoin": "round"},
       "encoding": {"x": {"field": "x", "type": "quantitative"}, "y": {"field": "y", "type": "quantitative"}, "detail": {"field": "b"}, "order": {"field": "o"}}},
      {"data": {"name": "c_txt"}, "transform": [{"filter": "datum.k === 'head'"}], "mark": {"type": "text", "fontSize": 20, "align": "center", "baseline": "middle"},
       "encoding": {"x": {"field": "x", "type": "quantitative"}, "y": {"field": "y", "type": "quantitative"}, "text": {"field": "s"}}},
      {"data": {"name": "c_txt"}, "transform": [{"filter": "datum.k === 'big'"}], "mark": {"type": "text", "fontSize": 22, "align": "left", "baseline": "alphabetic"},
       "encoding": {"x": {"field": "x", "type": "quantitative"}, "y": {"field": "y", "type": "quantitative"}, "text": {"field": "s"}}},
      {"data": {"name": "c_txt"}, "transform": [{"filter": "datum.k === 'sub'"}], "mark": {"type": "text", "fontSize": 16, "align": "left", "baseline": "alphabetic", "dy": 5},
       "encoding": {"x": {"field": "x", "type": "quantitative"}, "y": {"field": "y", "type": "quantitative"}, "text": {"field": "s"}}},
      {"data": {"name": "c_txt"}, "transform": [{"filter": "datum.k === 'descL'"}], "mark": {"type": "text", "fontSize": 16.5, "align": "left", "baseline": "middle"},
       "encoding": {"x": {"field": "x", "type": "quantitative"}, "y": {"field": "y", "type": "quantitative"}, "text": {"field": "s"}}},
      {"data": {"name": "c_txt"}, "transform": [{"filter": "datum.k === 'descC'"}], "mark": {"type": "text", "fontSize": 16.5, "align": "center", "baseline": "middle"},
       "encoding": {"x": {"field": "x", "type": "quantitative"}, "y": {"field": "y", "type": "quantitative"}, "text": {"field": "s"}}},
      {"data": {"name": "c_txt"}, "transform": [{"filter": "datum.k === 'lab'"}], "mark": {"type": "text", "fontSize": 24, "align": "right", "baseline": "middle"},
       "encoding": {"x": {"field": "x", "type": "quantitative"}, "y": {"field": "y", "type": "quantitative"}, "text": {"field": "s"}}},
      {"data": {"name": "c_txt"}, "transform": [{"filter": "datum.k === 'yt1'"}], "mark": {"type": "text", "fontSize": 27, "align": "left", "baseline": "alphabetic", "angle": 270},
       "encoding": {"x": {"field": "x", "type": "quantitative"}, "y": {"field": "y", "type": "quantitative"}, "text": {"field": "s"}}},
      {"data": {"name": "c_txt"}, "transform": [{"filter": "datum.k === 'yt2'"}], "mark": {"type": "text", "fontSize": 12, "align": "left", "baseline": "alphabetic", "angle": 270},
       "encoding": {"x": {"field": "x", "type": "quantitative"}, "y": {"field": "y", "type": "quantitative"}, "text": {"field": "s"}}},
      {"data": {"name": "c_txt"}, "transform": [{"filter": "datum.k === 'yt3'"}], "mark": {"type": "text", "fontSize": 22, "align": "left", "baseline": "alphabetic", "angle": 270},
       "encoding": {"x": {"field": "x", "type": "quantitative"}, "y": {"field": "y", "type": "quantitative"}, "text": {"field": "s"}}}
    ]
  },
  {
    "width": 316, "height": 279,
    "layer": [
      {"data": {"name": "d_bars"}, "transform": [{"filter": "datum.br === 'h'"}],
       "mark": {"type": "bar", "size": 22, "color": {"gradient": "linear", "x1": 0, "y1": 0, "x2": 0, "y2": 1, "stops": [{"offset": 0, "color": "#1a1aff"}, {"offset": 1, "color": "#0a0a78"}]}},
       "encoding": {
         "x": {"field": "x", "type": "quantitative", "scale": {"domain": [0.5, 12.5], "nice": false, "zero": false},
               "axis": {"values": [1,2,3,4,5,6,7,8,9,10,11,12], "tickCount": 100, "labelExpr": "['1','2','3','4','5','6','-1','-2','-3','-4','-5','-6'][datum.value - 1]",
                        "tickSize": -6, "labelPadding": 14, "title": "Gate Voltage (V)", "titleFontSize": 25, "titlePadding": 1}},
         "y": {"field": "y", "type": "quantitative", "scale": {"domain": [-2.5, 2.5], "nice": false},
               "axis": {"values": [-2,-1.5,-1,-0.5,0,0.5,1,1.5,2], "tickCount": 100, "labelExpr": "datum.value % 1 === 0 ? format(datum.value, 'd') : ''",
                        "tickSize": {"condition": {"test": "datum.value % 1 !== 0", "value": -4}, "value": -7},
                        "labelPadding": 14, "title": null}}
       }},
      {"data": {"name": "d_bars"}, "transform": [{"filter": "datum.br === 'e'"}],
       "mark": {"type": "bar", "size": 22, "color": {"gradient": "linear", "x1": 0, "y1": 0, "x2": 0, "y2": 1, "stops": [{"offset": 0, "color": "#ff1a1a"}, {"offset": 1, "color": "#8a0000"}]}},
       "encoding": {"x": {"field": "x", "type": "quantitative"}, "y": {"field": "y", "type": "quantitative"}}},
      {"data": {"name": "one"}, "mark": {"type": "rule", "strokeWidth": 2, "color": "black"}, "encoding": {"y": {"datum": 0}}},
      {"data": {"name": "one"}, "mark": {"type": "rule", "strokeWidth": 2, "color": "black"}, "encoding": {"x": {"datum": 6.5}}},
      {"data": {"name": "d_br"}, "mark": {"type": "line", "strokeWidth": 3, "color": "black", "strokeJoin": "round"},
       "encoding": {"x": {"field": "x", "type": "quantitative"}, "y": {"field": "y", "type": "quantitative"}, "detail": {"field": "b"}, "order": {"field": "o"}}},
      {"data": {"name": "d_txt"}, "transform": [{"filter": "datum.k === 'head'"}], "mark": {"type": "text", "fontSize": 20, "align": "center", "baseline": "middle"},
       "encoding": {"x": {"field": "x", "type": "quantitative"}, "y": {"field": "y", "type": "quantitative"}, "text": {"field": "s"}}},
      {"data": {"name": "d_txt"}, "transform": [{"filter": "datum.k === 'big'"}], "mark": {"type": "text", "fontSize": 22, "align": "left", "baseline": "alphabetic"},
       "encoding": {"x": {"field": "x", "type": "quantitative"}, "y": {"field": "y", "type": "quantitative"}, "text": {"field": "s"}}},
      {"data": {"name": "d_txt"}, "transform": [{"filter": "datum.k === 'sub'"}], "mark": {"type": "text", "fontSize": 16, "align": "left", "baseline": "alphabetic", "dy": 5},
       "encoding": {"x": {"field": "x", "type": "quantitative"}, "y": {"field": "y", "type": "quantitative"}, "text": {"field": "s"}}},
      {"data": {"name": "d_txt"}, "transform": [{"filter": "datum.k === 'descL'"}], "mark": {"type": "text", "fontSize": 16.5, "align": "left", "baseline": "middle"},
       "encoding": {"x": {"field": "x", "type": "quantitative"}, "y": {"field": "y", "type": "quantitative"}, "text": {"field": "s"}}},
      {"data": {"name": "d_txt"}, "transform": [{"filter": "datum.k === 'descC'"}], "mark": {"type": "text", "fontSize": 16.5, "align": "center", "baseline": "middle"},
       "encoding": {"x": {"field": "x", "type": "quantitative"}, "y": {"field": "y", "type": "quantitative"}, "text": {"field": "s"}}},
      {"data": {"name": "d_txt"}, "transform": [{"filter": "datum.k === 'lab'"}], "mark": {"type": "text", "fontSize": 24, "align": "right", "baseline": "middle"},
       "encoding": {"x": {"field": "x", "type": "quantitative"}, "y": {"field": "y", "type": "quantitative"}, "text": {"field": "s"}}},
      {"data": {"name": "d_txt"}, "transform": [{"filter": "datum.k === 'yt1'"}], "mark": {"type": "text", "fontSize": 22, "align": "left", "baseline": "alphabetic", "angle": 270},
       "encoding": {"x": {"field": "x", "type": "quantitative"}, "y": {"field": "y", "type": "quantitative"}, "text": {"field": "s"}}},
      {"data": {"name": "d_txt"}, "transform": [{"filter": "datum.k === 'yt2'"}], "mark": {"type": "text", "fontSize": 13, "align": "left", "baseline": "alphabetic", "angle": 270},
       "encoding": {"x": {"field": "x", "type": "quantitative"}, "y": {"field": "y", "type": "quantitative"}, "text": {"field": "s"}}},
      {"data": {"name": "d_txt"}, "transform": [{"filter": "datum.k === 'yt3'"}], "mark": {"type": "text", "fontSize": 22, "align": "left", "baseline": "alphabetic", "angle": 270},
       "encoding": {"x": {"field": "x", "type": "quantitative"}, "y": {"field": "y", "type": "quantitative"}, "text": {"field": "s"}}}
    ]
  }
]
}
